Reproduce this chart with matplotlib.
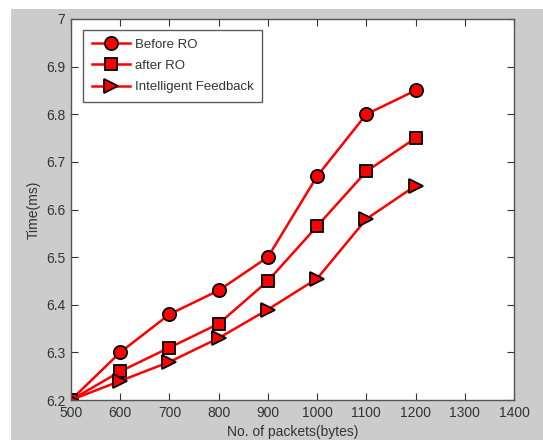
import matplotlib
matplotlib.use("Agg")
import matplotlib.pyplot as plt
from matplotlib.patches import Rectangle

packets = [500, 600, 700, 800, 900, 1000, 1100, 1200]
before_ro = [6.2, 6.3, 6.38, 6.43, 6.5, 6.67, 6.8, 6.85]
after_ro = [6.2, 6.26, 6.31, 6.36, 6.45, 6.565, 6.68, 6.75]
intelligent_fb = [6.2, 6.24, 6.28, 6.33, 6.39, 6.455, 6.58, 6.65]
xticks = [500, 600, 700, 800, 900, 1000, 1100, 1200, 1300, 1400]
yticks = [6.2, 6.3, 6.4, 6.5, 6.6, 6.7, 6.8, 6.9, 7.0]
ytick_labels = ["6.2", "6.3", "6.4", "6.5", "6.6", "6.7", "6.8", "6.9", "7"]

plt.rcParams['font.family'] = ['Liberation Sans', 'DejaVu Sans']

W, H = 543, 440
fig = plt.figure(figsize=(W / 100, H / 100), dpi=100, facecolor='white')
fig.patches.append(Rectangle((11 / W, 0), 1 - 11 / W, (H - 9) / H,
                             transform=fig.transFigure, facecolor='#cccccc',
                             edgecolor='none', zorder=-10))

ax = fig.add_axes([71 / W, (H - 400) / H, (514 - 71) / W, (400 - 19) / H])
ax.set_zorder(1)
ax.set_facecolor('white')

common = dict(color='red', lw=1.8, markerfacecolor='red', markeredgecolor='black',
              markeredgewidth=1.3)
ax.plot(packets, before_ro, marker='o', markersize=9.5, label='Before RO', **common)
ax.plot(packets, after_ro, marker='s', markersize=9, label='after RO', **common)
ax.plot(packets, intelligent_fb, marker='>', markersize=10.5, label='Intelligent Feedback', **common)

ax.set_xlim(500, 1400)
ax.set_ylim(6.2, 7.0)
ax.set_xticks(xticks)
ax.set_yticks(yticks)
ax.set_yticklabels(ytick_labels)
ax.tick_params(direction='in', top=True, right=True, length=5, labelsize=10,
               colors='#333333', pad=4)
for sp in ax.spines.values():
    sp.set_color('#555555')
    sp.set_linewidth(1.0)

ax.set_xlabel('No. of packets(bytes)', fontsize=10, color='#333333', labelpad=4)
ax.set_ylabel('Time(ms)', fontsize=10, color='#333333', labelpad=4)

leg = ax.legend(loc='upper left', bbox_to_anchor=(12 / 443, 1 - 11 / 381),
                borderaxespad=0, fontsize=9.5,
                frameon=True, fancybox=False, edgecolor='#333333',
                handlelength=2.9, borderpad=0.65, labelspacing=0.68, handletextpad=0.4)
leg.get_frame().set_linewidth(1.0)
for t in leg.get_texts():
    t.set_color('#333333')

fig.savefig('out.png', dpi=100, facecolor=fig.get_facecolor())
